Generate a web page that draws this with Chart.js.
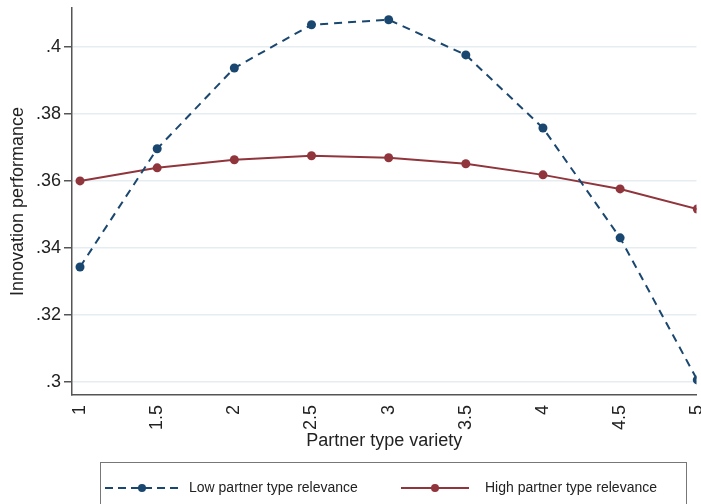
<!DOCTYPE html>
<html>
<head>
<meta charset="utf-8">
<script src="https://cdn.jsdelivr.net/npm/chart.js@4/dist/chart.umd.min.js"></script>
<style>
    html, body { margin: 0; padding: 0; background: #fff; }
    #wrap { width: 701px; height: 504px; position: relative; }
</style>
</head>
<body>
<div id="wrap"><canvas id="grafico" width="701" height="504"></canvas></div>
<script>
// valores
const variedade = [1, 1.5, 2, 2.5, 3, 3.5, 4, 4.5, 5];
const baixaRelevancia = [0.3343, 0.3696, 0.3937, 0.4066, 0.4081, 0.3976, 0.3758, 0.3430, 0.3006];
const altaRelevancia = [0.3600, 0.3639, 0.3663, 0.3675, 0.3669, 0.3651, 0.3618, 0.3576, 0.3516];

const yTicks = [0.3, 0.32, 0.34, 0.36, 0.38, 0.4];
const yTickLabels = ['.3', '.32', '.34', '.36', '.38', '.4'];
const xTicks = [1, 1.5, 2, 2.5, 3, 3.5, 4, 4.5, 5];

const azul = '#1a476f';
const vermelho = '#90353b';
const fonte = '"Liberation Sans", Arial, sans-serif';

// legenda com moldura, no estilo do Stata
const legendaStata = {
    id: 'legendaStata',
    afterDraw(chart) {
        const ctx = chart.ctx;
        ctx.save();
        ctx.strokeStyle = '#777';
        ctx.lineWidth = 1;
        ctx.strokeRect(100.5, 462.5, 586, 44);

        const itens = [
            { x1: 105, x2: 179, dash: [8, 5], cor: azul, texto: chart.data.datasets[0].label, tx: 189 },
            { x1: 401, x2: 469, dash: [], cor: vermelho, texto: chart.data.datasets[1].label, tx: 485 }
        ];
        const y = 488;
        itens.forEach(item => {
            ctx.strokeStyle = item.cor;
            ctx.lineWidth = 2;
            ctx.setLineDash(item.dash);
            ctx.beginPath();
            ctx.moveTo(item.x1, y);
            ctx.lineTo(item.x2, y);
            ctx.stroke();
            ctx.setLineDash([]);
            ctx.fillStyle = item.cor;
            ctx.beginPath();
            ctx.arc((item.x1 + item.x2) / 2, y, 4, 0, Math.PI * 2);
            ctx.fill();
            ctx.fillStyle = '#222';
            ctx.font = '14px ' + fonte;
            ctx.textBaseline = 'middle';
            ctx.textAlign = 'left';
            ctx.fillText(item.texto, item.tx, y);
        });
        ctx.restore();
    }
};

const ctx = document.getElementById('grafico').getContext('2d');
new Chart(ctx, {
    type: 'line',
    data: {
        datasets: [{
            label: 'Low partner type relevance',
            data: variedade.map((v, i) => ({ x: v, y: baixaRelevancia[i] })),
            borderColor: azul,
            backgroundColor: azul,
            borderWidth: 2,
            borderDash: [8, 6],
            pointRadius: 4.5,
            pointBorderWidth: 0,
            tension: 0
        }, {
            label: 'High partner type relevance',
            data: variedade.map((v, i) => ({ x: v, y: altaRelevancia[i] })),
            borderColor: vermelho,
            backgroundColor: vermelho,
            borderWidth: 2,
            pointRadius: 4.5,
            pointBorderWidth: 0,
            tension: 0
        }]
    },
    options: {
        responsive: false,
        animation: false,
        layout: { padding: { top: 8, right: 0, bottom: 49, left: 0 } },
        plugins: {
            legend: { display: false },
            tooltip: { enabled: false }
        },
        scales: {
            x: {
                type: 'linear',
                min: 0.948,
                max: 4.995,
                afterBuildTicks: scale => { scale.ticks = xTicks.map(v => ({ value: v })); },
                afterFit: scale => {
                    scale.height = 60;
                    scale.paddingLeft = 0;
                    scale.paddingRight = 0;
                },
                grid: { display: false, drawTicks: true, tickLength: 8, tickColor: '#555' },
                border: { color: '#555', width: 1.5 },
                ticks: {
                    minRotation: 90,
                    maxRotation: 90,
                    padding: 2,
                    color: '#222',
                    font: { family: fonte, size: 18 },
                    callback: value => String(value)
                },
                title: {
                    display: true,
                    text: 'Partner type variety',
                    color: '#222',
                    font: { family: fonte, size: 18 },
                    padding: { top: 0, bottom: 3 }
                }
            },
            y: {
                min: 0.2961,
                max: 0.4116,
                afterBuildTicks: scale => { scale.ticks = yTicks.map(v => ({ value: v })); },
                afterFit: scale => {
                    scale.width = 72;
                    scale.paddingTop = 0;
                    scale.paddingBottom = 0;
                },
                grid: { color: '#e6edf1', lineWidth: 1.5, tickLength: 8, tickColor: '#555' },
                border: { color: '#555', width: 1.5 },
                ticks: {
                    padding: 3,
                    color: '#222',
                    font: { family: fonte, size: 18 },
                    callback: (value, i) => yTickLabels[yTicks.indexOf(value)]
                },
                title: {
                    display: true,
                    text: 'Innovation performance',
                    color: '#222',
                    font: { family: fonte, size: 18 },
                    padding: { top: 7, bottom: 0 }
                }
            }
        }
    },
    plugins: [legendaStata]
});
</script>
</body>
</html>
